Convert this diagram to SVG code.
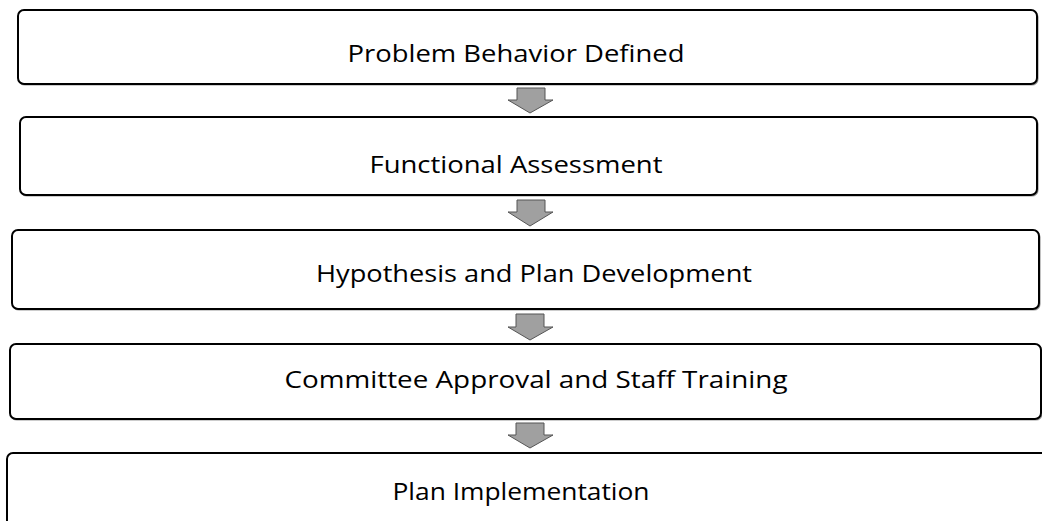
<svg xmlns="http://www.w3.org/2000/svg" width="1042" height="521" viewBox="0 0 1042 521">
<style>
.box{fill:#fff;stroke:#000;stroke-width:2}
.sh{fill:none;stroke:#9a9a9a;stroke-width:1.2}
.lbl{font-family:"Open Sans","Liberation Sans",sans-serif;font-size:24px;fill:#000;text-anchor:middle}
.arr{fill:#a0a0a0;stroke:#555;stroke-width:1}
</style>
<rect width="1042" height="521" fill="#fff"/>
<g id="connectors">
<path class="arr" d="M517 88 H545 V100 H553 L530 113 L508 100 H517 Z"/>
<path class="arr" d="M517 200 H545 V212 H553 L530 226 L508 212 H517 Z"/>
<path class="arr" d="M516 314 H544 V327 H553 L530 340 L508 327 H516 Z"/>
<path class="arr" d="M516 423 H544 V435 H553 L530 448 L508 435 H516 Z"/>
</g>
<g id="n1">
<rect class="sh" x="19" y="11" width="1019" height="74" rx="6"/>
<rect class="box" x="18" y="10" width="1019" height="74" rx="6"/>
<text class="lbl" x="516" y="62" textLength="337" lengthAdjust="spacingAndGlyphs">Problem Behavior Defined</text>
</g>
<g id="n2">
<rect class="sh" x="21" y="118" width="1017" height="78" rx="6"/>
<rect class="box" x="20" y="117" width="1017" height="78" rx="6"/>
<text class="lbl" x="516" y="173" textLength="293" lengthAdjust="spacingAndGlyphs">Functional Assessment</text>
</g>
<g id="n3">
<rect class="sh" x="13" y="231" width="1027" height="79" rx="6"/>
<rect class="box" x="12" y="230" width="1027" height="79" rx="6"/>
<text class="lbl" x="534" y="282" textLength="436" lengthAdjust="spacingAndGlyphs">Hypothesis and Plan Development</text>
</g>
<g id="n4">
<rect class="sh" x="11" y="345" width="1031" height="75" rx="6"/>
<rect class="box" x="10" y="344" width="1031" height="75" rx="6"/>
<text class="lbl" x="536" y="388" textLength="503" lengthAdjust="spacingAndGlyphs">Committee Approval and Staff Training</text>
</g>
<g id="n5">
<rect class="sh" x="8" y="454" width="1050" height="90" rx="6"/>
<rect class="box" x="7" y="453" width="1050" height="90" rx="6"/>
<text class="lbl" x="521" y="500" textLength="257" lengthAdjust="spacingAndGlyphs">Plan Implementation</text>
</g>
</svg>
